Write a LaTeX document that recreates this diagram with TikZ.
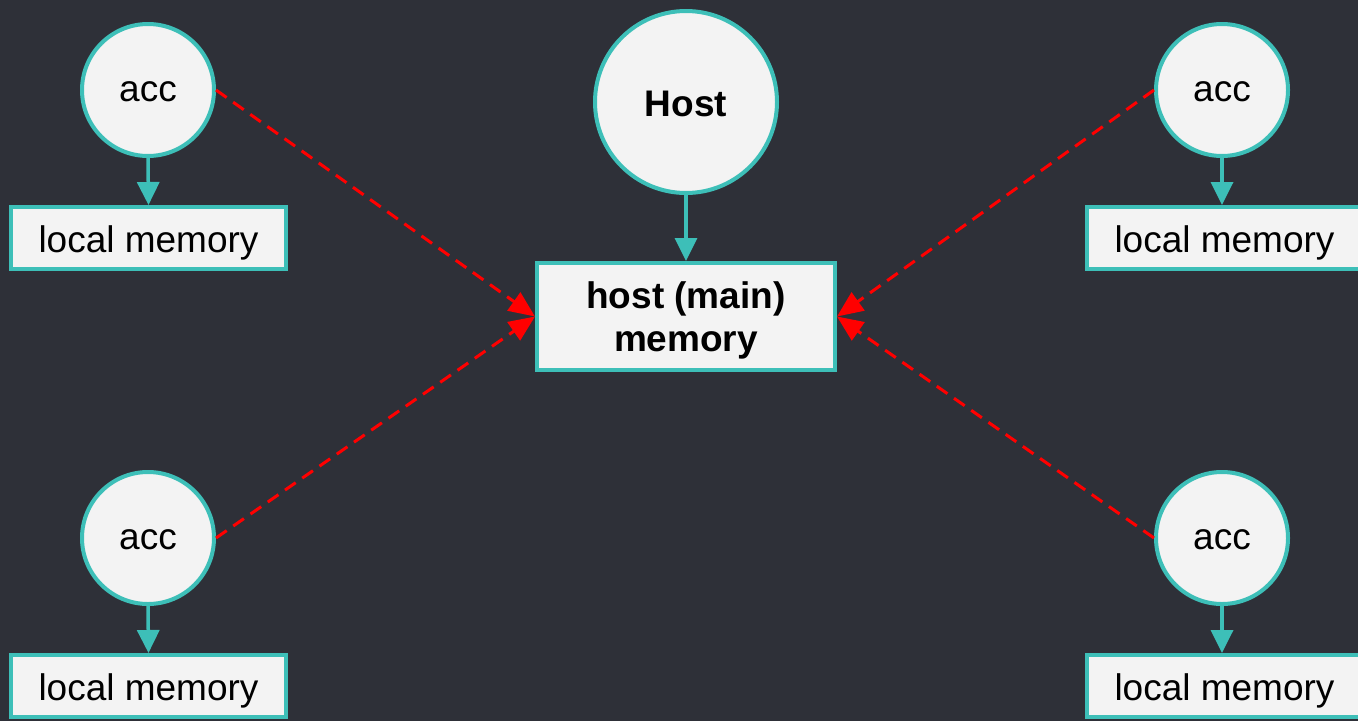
\documentclass[tikz,border=0pt]{standalone}
\usepackage{fontspec}
\setmainfont{Liberation Sans}
\usetikzlibrary{arrows.meta}
\definecolor{bgdark}{HTML}{2E3038}
\definecolor{teal}{HTML}{3DBFB8}
\definecolor{paper}{HTML}{F3F3F3}
\definecolor{linkred}{HTML}{FF0000}
\tikzset{
  base/.style={draw=teal, fill=paper, line width=4pt, inner sep=0pt, text=black,
    font=\fontsize{37}{43}\selectfont},
  acc/.style={base, circle, minimum size=132pt, text height=22pt, text depth=0pt},
  hostc/.style={base, circle, minimum size=182pt, text height=28pt, text depth=0pt,
    font=\fontsize{37}{43}\selectfont\bfseries},
  membox/.style={base, rectangle, minimum width=275pt, minimum height=62pt,
    text height=28.6pt, text depth=0pt},
  mainbox/.style={base, rectangle, minimum width=298pt, minimum height=107pt},
  maintext/.style={align=center, inner sep=0pt, text=black,
    font=\fontsize{37}{43}\selectfont\bfseries},
  down/.style={draw=teal, line width=3.5pt, -{Triangle[length=23pt,width=22pt]}},
  link/.style={draw=linkred, line width=3pt, dash pattern=on 13pt off 8pt,
    -{Triangle[length=26pt,width=22pt]}}
}
\begin{document}
\begin{tikzpicture}[x=1pt, y=-1pt]
  % canvas
  \fill[bgdark] (0,0) rectangle (1358,721);
  \useasboundingbox (0,0) rectangle (1358,721);

  % host and its main memory
  \node[hostc] (host) at (686,102) {Host};
  \node[mainbox] (hm) at (686,316.5) {};
  \node[maintext] (hmlabel) at (686,320.5) {host (main)\\memory};

  % accelerators and their local memories (right-hand boxes run off the edge)
  \node[acc] (acc1) at (148,90) {acc};
  \node[membox] (lm1) at (148.5,238) {local memory};
  \node[acc] (acc2) at (1222,90) {acc};
  \node[membox] (lm2) at (1224.5,238) {local memory};
  \node[acc] (acc3) at (148,538) {acc};
  \node[membox] (lm3) at (148.5,686) {local memory};
  \node[acc] (acc4) at (1222,538) {acc};
  \node[membox] (lm4) at (1224.5,686) {local memory};

  % local connections
  \draw[down] (host.south) -- (hm.north);
  \draw[down] (acc1.south) -- (lm1.north);
  \draw[down] (acc2.south) -- (lm2.north -| acc2.south);
  \draw[down] (acc3.south) -- (lm3.north);
  \draw[down] (acc4.south) -- (lm4.north -| acc4.south);

  % transfers to host memory
  \draw[link] (acc1.east) -- (hm.west);
  \draw[link] (acc3.east) -- (hm.west);
  \draw[link] (acc2.west) -- (hm.east);
  \draw[link] (acc4.west) -- (hm.east);
\end{tikzpicture}
\end{document}
